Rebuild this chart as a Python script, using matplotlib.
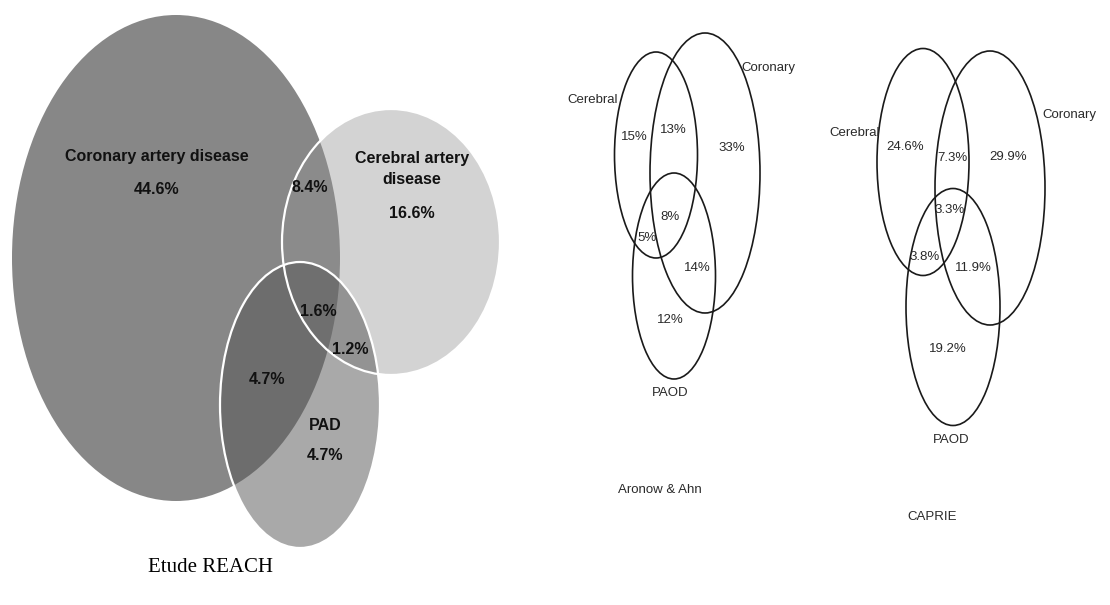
import matplotlib.pyplot as plt
from matplotlib import font_manager
from matplotlib.patches import Ellipse

# ---- data ----
# region order: A only, B only, C only, A&B, A&B&C, B&C, A&C
reach_sets = ["Coronary artery disease", "Cerebral artery\ndisease", "PAD"]
reach_pct = [44.6, 16.6, 4.7, 8.4, 1.6, 1.2, 4.7]

aronow_sets = ["Cerebral", "Coronary", "PAOD"]
aronow_pct = [15, 33, 12, 13, 8, 5, 14]

caprie_sets = ["Cerebral", "Coronary", "PAOD"]
caprie_pct = [24.6, 29.9, 19.2, 7.3, 3.3, 3.8, 11.9]

study_names = ["Etude REACH", "Aronow & Ahn", "CAPRIE"]

# ---- layout (pixel space, y down) ----
W, H = 1110, 605
names = {f.name for f in font_manager.fontManager.ttflist}
if "Liberation Sans Narrow" in names:
    narrow, big, small = ["Liberation Sans Narrow", "DejaVu Sans"], 13.5, 11.5
else:
    narrow, big, small = ["Liberation Sans", "DejaVu Sans"], 11.5, 9.5

fig = plt.figure(figsize=(W / 100, H / 100), dpi=100)
ax = fig.add_axes([0, 0, 1, 1])
ax.set_xlim(0, W)
ax.set_ylim(H, 0)
ax.axis("off")

# REACH: filled ellipses (coronary, cerebral, PAD)
reach_shapes = [((176, 258), 328, 486, (135/255,) * 3, 1.0),
                ((391, 242), 218, 266, (147/255,) * 3, 0.4),
                ((300, 405), 160, 286, (85/255,) * 3, 0.5)]
for (c, w, h, col, a) in reach_shapes:
    ax.add_patch(Ellipse(c, w, h, facecolor=col, alpha=a, edgecolor="none"))
for (c, w, h, col, a) in reach_shapes[1:]:
    ax.add_patch(Ellipse(c, w, h, facecolor="none", edgecolor="white", lw=1.6))

name_pos = [(157, 157), (412, 169), (325, 426)]
val_pos = [(157, 189), (412, 213), (325, 456),
           (310, 188), (318, 311), (350, 350), (267, 379)]
for (x, y), s in zip(name_pos, reach_sets):
    ax.text(x, y, s, ha="center", va="center", fontsize=big, weight="bold",
            family=narrow, color="#111111", linespacing=1.55)
for (x, y), v in zip(val_pos, reach_pct):
    ax.text(x, y, f"{v:.1f}%", ha="center", va="center", fontsize=big,
            weight="bold", family=narrow, color="#111111")

ax.text(148, 567, study_names[0], ha="left", va="center", fontsize=15,
        family=["Liberation Serif", "DejaVu Serif"], color="black")


def outline_venn(shapes, set_names, name_xy, vals, val_xy, fmt, title_xy, title):
    for (c, w, h) in shapes:
        ax.add_patch(Ellipse(c, w, h, facecolor="none", edgecolor="#1a1a1a",
                             lw=1.2))
    for (x, y), s in zip(name_xy, set_names):
        ax.text(x, y, s, ha="center", va="center", fontsize=small,
                family=narrow, color="#2a2a2a")
    for (x, y), v in zip(val_xy, vals):
        ax.text(x, y, fmt.format(v), ha="center", va="center", fontsize=small,
                family=narrow, color="#2a2a2a")
    ax.text(title_xy[0], title_xy[1], title, ha="center", va="center",
            fontsize=small, family=narrow, color="#2a2a2a")


# Aronow & Ahn: cerebral, coronary, PAOD
outline_venn([((656, 155), 83, 206), ((705, 173), 110, 280), ((674, 276), 83, 206)],
             aronow_sets, [(593, 100), (768, 68), (670, 393)],
             aronow_pct,
             [(634, 137), (732, 148), (670, 320), (673, 130), (670, 217),
              (647, 238), (697, 268)],
             "{:.0f}%", (660, 490), study_names[1])

# CAPRIE
outline_venn([((923, 162), 92, 227), ((990, 188), 110, 274), ((953, 307), 94, 237)],
             caprie_sets, [(855, 133), (1069, 115), (951, 440)],
             caprie_pct,
             [(905, 147), (1008, 157), (948, 349), (952, 158), (950, 210),
              (925, 257), (973, 268)],
             "{:.1f}%", (932, 517), study_names[2])

fig.savefig("out.png", dpi=100)
